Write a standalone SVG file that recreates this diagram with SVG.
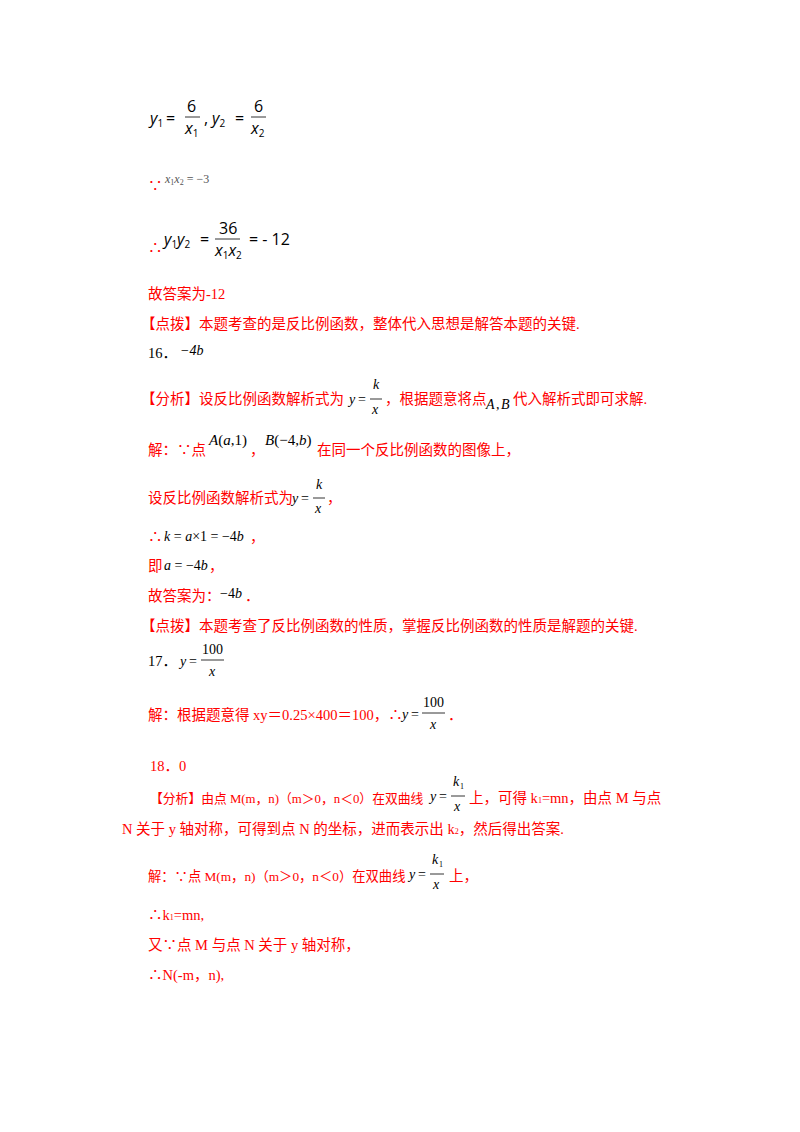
<svg xmlns="http://www.w3.org/2000/svg" width="800" height="1132" viewBox="0 0 800 1132">
<style>
.r{fill:#ff0000;font-family:"Liberation Serif","Noto Sans CJK SC",serif;font-size:14.5px}
.k{fill:#000;font-family:"Liberation Serif","Noto Sans CJK SC",serif;font-size:14.5px}
.m{fill:#000;font-family:"Liberation Serif",serif;font-size:14px}
.i{font-style:italic}
.s{fill:#000;font-family:"Open Sans","Liberation Sans",sans-serif;font-size:16px}
.sub{font-size:10px}
.ln{stroke:#000;stroke-width:0.8}
</style>
<rect width="800" height="1132" fill="#fff"/>
<g id="eq1">
<text class="s" x="150" y="124"><tspan class="i">y</tspan><tspan class="sub" dy="3">1</tspan><tspan dy="-3" x="166">=</tspan></text>
<text class="s" x="187" y="112">6</text><line class="ln" x1="185" y1="117" x2="200" y2="117"/>
<text class="s" x="185" y="134"><tspan class="i">x</tspan><tspan class="sub" dy="3">1</tspan></text>
<text class="s" x="204" y="124">,</text>
<text class="s" x="212" y="124"><tspan class="i">y</tspan><tspan class="sub" dy="3">2</tspan><tspan dy="-3" x="235">=</tspan></text>
<text class="s" x="254" y="112">6</text><line class="ln" x1="251" y1="117" x2="266" y2="117"/>
<text class="s" x="251" y="134"><tspan class="i">x</tspan><tspan class="sub" dy="3">2</tspan></text>
</g>
<g id="eq2">
<text class="r" x="148" y="191">∵</text>
<text x="165" y="183" style="fill:#555;font-family:'Liberation Serif',serif;font-size:12px"><tspan class="i">x</tspan><tspan style="font-size:8px" dy="2">1</tspan><tspan class="i" dy="-2">x</tspan><tspan style="font-size:8px" dy="2">2</tspan><tspan dy="-2"> = −3</tspan></text>
</g>
<g id="eq3">
<text class="r" x="148" y="253">∴</text>
<text class="s" x="164" y="245"><tspan class="i">y</tspan><tspan class="sub" dy="3">1</tspan><tspan class="i" dy="-3">y</tspan><tspan class="sub" dy="3">2</tspan><tspan dy="-3" x="200">=</tspan></text>
<text class="s" x="219" y="234">36</text><line class="ln" x1="215" y1="239" x2="240" y2="239"/>
<text class="s" x="215" y="256"><tspan class="i">x</tspan><tspan class="sub" dy="3">1</tspan><tspan class="i" dy="-3">x</tspan><tspan class="sub" dy="3">2</tspan></text>
<text class="s" x="249" y="245">=  - 12</text>
</g>
<g id="body">
<text class="r" x="148" y="299">故答案为-12</text>
<text class="r" x="141" y="329">【点拨】本题考查的是反比例函数，整体代入思想是解答本题的关键.</text>
<text class="k" x="148" y="358">16．</text><text class="m i" x="180" y="355">−4b</text>
<text class="r" x="141" y="404">【分析】设反比例函数解析式为</text>
<text class="m i" x="349" y="404">y</text><text class="m" x="358" y="404">=</text><text class="m i" x="373" y="389">k</text><line class="ln" x1="370" y1="399" x2="382" y2="399"/><text class="m i" x="372" y="414">x</text>
<text class="r" x="385" y="404">，根据题意将点</text><text class="m i" x="486" y="409">A</text><text class="m" x="496" y="409">,</text><text class="m i" x="501" y="409">B</text><text class="r" x="513" y="404">代入解析式即可求解.</text>
<text class="r" x="148" y="455">解：∵点</text>
<text class="m" x="209" y="445" style="font-size:15px"><tspan class="i">A</tspan>(<tspan class="i">a</tspan>,1)</text>
<text class="r" x="250" y="455">，</text>
<text class="m" x="265" y="445" style="font-size:15px"><tspan class="i">B</tspan>(−4,<tspan class="i">b</tspan>)</text>
<text class="r" x="317" y="455">在同一个反比例函数的图像上，</text>
<text class="r" x="148" y="503">设反比例函数解析式为</text>
<text class="m i" x="292" y="503">y</text><text class="m" x="301" y="503">=</text><text class="m i" x="316" y="489">k</text><line class="ln" x1="313" y1="498" x2="325" y2="498"/><text class="m i" x="315" y="513">x</text>
<text class="r" x="327" y="503">，</text>
<text class="r" x="148" y="542">∴</text><text class="m" x="164" y="541"><tspan class="i">k</tspan> = <tspan class="i">a</tspan>×1 = −4<tspan class="i">b</tspan></text><text class="r" x="250" y="542">，</text>
<text class="r" x="148" y="571">即</text><text class="m" x="164" y="570"><tspan class="i">a</tspan> = −4<tspan class="i">b</tspan></text><text class="r" x="209" y="571">，</text>
<text class="r" x="148" y="601">故答案为：</text><text class="m" x="220" y="598">−4<tspan class="i">b</tspan></text><text class="r" x="245" y="601">．</text>
<text class="r" x="141" y="631">【点拨】本题考查了反比例函数的性质，掌握反比例函数的性质是解题的关键.</text>
<text class="k" x="148" y="666">17．</text>
<text class="m i" x="180" y="666">y</text><text class="m" x="189" y="666">=</text><text class="m" x="202" y="654">100</text><line class="ln" x1="201" y1="660" x2="224" y2="660"/><text class="m i" x="209" y="676">x</text>
<text class="r" x="148" y="720">解：根据题意得 xy＝0.25×400＝100，∴</text>
<text class="m i" x="402" y="719">y</text><text class="m" x="411" y="719">=</text><text class="m" x="423" y="707">100</text><line class="ln" x1="422" y1="713" x2="445" y2="713"/><text class="m i" x="430" y="729">x</text>
<text class="r" x="448" y="720">．</text>
<text class="r" x="150" y="771">18．0</text>
<text class="r" x="150" y="803" style="font-size:12.8px">【分析】由点 M(m，n)（m＞0，n＜0）在双曲线</text>
<text class="m i" x="430" y="801">y</text><text class="m" x="439" y="801">=</text><text class="m i" x="453" y="786">k</text><text x="460" y="789" style="font-family:'Liberation Serif',serif;font-size:8px">1</text><line class="ln" x1="451" y1="796" x2="465" y2="796"/><text class="m i" x="454" y="811">x</text>
<text class="r" x="469" y="803">上，可得 k<tspan style="font-size:8px">1</tspan>=mn，由点 M 与点</text>
<text class="r" x="122" y="834">N 关于 y 轴对称，可得到点 N 的坐标，进而表示出 k<tspan style="font-size:8px">2</tspan>，然后得出答案.</text>
<text class="r" x="148" y="881" style="font-size:13.3px">解：∵点 M(m，n)（m＞0，n＜0）在双曲线</text>
<text class="m i" x="409" y="879">y</text><text class="m" x="418" y="879">=</text><text class="m i" x="432" y="864">k</text><text x="439" y="867" style="font-family:'Liberation Serif',serif;font-size:8px">1</text><line class="ln" x1="430" y1="874" x2="444" y2="874"/><text class="m i" x="433" y="889">x</text>
<text class="r" x="449" y="881">上，</text>
<text class="r" x="148" y="920">∴k<tspan style="font-size:8px">1</tspan>=mn,</text>
<text class="r" x="148" y="950">又∵点 M 与点 N 关于 y 轴对称，</text>
<text class="r" x="148" y="980">∴N(-m，n),</text>
</g>
</svg>
